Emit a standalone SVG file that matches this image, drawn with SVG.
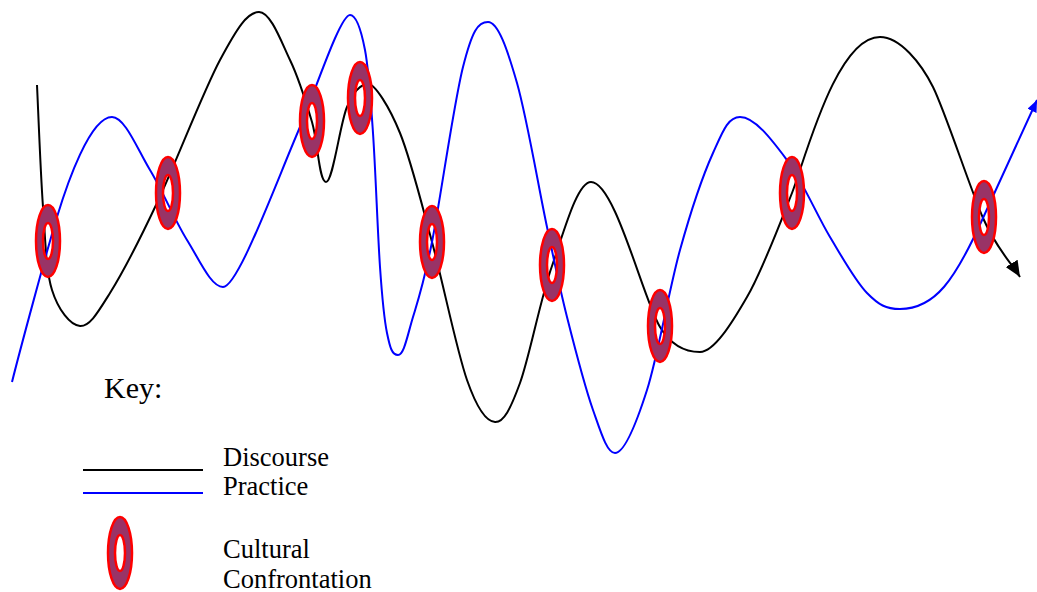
<svg xmlns="http://www.w3.org/2000/svg" width="1037" height="592" viewBox="0 0 1037 592">
<style>
.line{fill:none;stroke-width:2}
.disc{stroke:#000000}
.prac{stroke:#0000FF}
.ringshape{fill:#993366;stroke:#FF0000;stroke-width:2.5;fill-rule:evenodd}
.lbl{font-family:"Liberation Serif","Times New Roman",serif;font-size:26.5px;fill:#000}
</style>
<defs>
<path id="ring" d="M-12,0 a12,36 0 1,0 24,0 a12,36 0 1,0 -24,0 Z M-5,0 a5,18 0 1,0 10,0 a5,18 0 1,0 -10,0 Z"/>
<marker id="arrB" viewBox="0 0 16 14" refX="16" refY="7" markerWidth="16" markerHeight="14" markerUnits="userSpaceOnUse" orient="auto"><path d="M0,0 L16,7 L0,14 Z" fill="#000"/></marker>
<marker id="arrP" viewBox="0 0 12 10" refX="12" refY="5" markerWidth="12" markerHeight="10" markerUnits="userSpaceOnUse" orient="auto"><path d="M0,0 L12,5 L0,10 Z" fill="#0000FF"/></marker>
</defs>
<rect width="1037" height="592" fill="#fff"/>
<g id="connectors">
<path id="discourse" class="line disc" marker-end="url(#arrB)" d="M37,85 C38,105.3 40.5,172.8 43,207 C45.5,241.2 45.8,270.2 52,290 C58.2,309.8 70.3,325.5 80,326 C89.7,326.5 97.2,313.5 110,293 C122.8,272.5 138.7,241.8 157,203 C175.3,164.2 203,91.8 220,60 C237,28.2 247.3,12 259,12 C270.7,12 281.2,41.7 290,60 C298.8,78.3 306,101.7 312,122 C318,142.3 319,182 326,182 C333,182 340,123.3 347,107 C354,90.7 361,84 368,84 C375,84 389.3,106.7 400,133 C410.7,159.3 420.8,200.8 432,242 C443.2,283.2 456.5,350 467,380 C477.5,410 486.2,421.5 495,422 C503.8,422.5 510.5,409 520,383 C529.5,357 540.2,299.5 552,266 C563.8,232.5 577,182 591,182 C615,182 643,299 660,327 C671.2,345.7 686,352 700,352 C714,352 731.7,323.5 747,297 C762.3,270.5 778.2,228 792,193 C805,160 836,37 880,37 C900,37 921,63 933,87 C945,111 970,188 983,218 C996,248 1012,264 1020,277"/>
<path id="practice" class="line prac" marker-end="url(#arrP)" d="M12,382 C20,350 47,250 57,217 C67,184 90,117 112,117 C125,117 137.5,149.5 150,170 C162.5,190.5 174.8,220.5 187,240 C199.2,259.5 211,287 223,287 C238,287 275,185 300,127 C315,92 340,15 350,15 C356.3,15 361.2,30.3 365,50 C368.8,69.7 370.5,96.8 373,133 C375.5,169.2 377.7,233.7 380,267 C382.3,300.3 384,318.3 387,333 C390,347.7 392,355 398,355 C404,355 407.3,335.8 413,317 C418.7,298.2 423.7,283.7 432,242 C440.3,200.3 453.7,103.7 463,67 C472.3,30.3 478,22 488,22 C498,22 507.2,48.8 517,83 C526.8,117.2 538.7,188 547,227 C555.3,266 559.3,286.5 567,317 C574.7,347.5 585,387.3 593,410 C601,432.7 607,453 615,453 C624,453 636.2,423.8 647,390 C657.8,356.2 669,289.5 680,250 C691,210.5 703,175.2 713,153 C723,130.8 728,117 740,117 C755,117 772,140 787,160 C802,180 816.7,214.8 830,237 C843.3,259.2 855.3,281 867,293 C878.7,305 886,309 900,309 C935,309 955,280 983,218 C995,192 1025,126 1037,100"/>
</g>
<g id="node-1"><use href="#ring" class="ringshape" x="48" y="241"/></g>
<g id="node-2"><use href="#ring" class="ringshape" x="168" y="193"/></g>
<g id="node-3"><use href="#ring" class="ringshape" x="312" y="121"/></g>
<g id="node-4"><use href="#ring" class="ringshape" x="360" y="98"/></g>
<g id="node-5"><use href="#ring" class="ringshape" x="432" y="242"/></g>
<g id="node-6"><use href="#ring" class="ringshape" x="552" y="265"/></g>
<g id="node-7"><use href="#ring" class="ringshape" x="660" y="326"/></g>
<g id="node-8"><use href="#ring" class="ringshape" x="792" y="193"/></g>
<g id="node-9"><use href="#ring" class="ringshape" x="984" y="217"/></g>
<g id="key">
<text class="lbl" x="104" y="398" style="font-size:30px">Key:</text>
<line class="line disc" x1="83" y1="470" x2="203" y2="470"/>
<line class="line prac" x1="83" y1="493" x2="203" y2="493"/>
<text class="lbl" x="223" y="466">Discourse</text>
<text class="lbl" x="223" y="495">Practice</text>
<use href="#ring" class="ringshape" x="120" y="553"/>
<text class="lbl" x="223" y="558">Cultural</text>
<text class="lbl" x="223" y="588">Confrontation</text>
</g>
</svg>
